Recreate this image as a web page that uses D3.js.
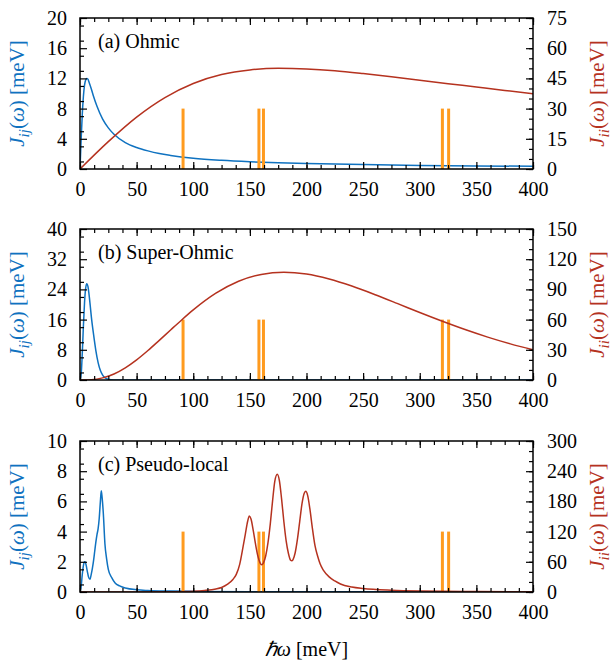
<!DOCTYPE html>
<html>
<head>
<meta charset="utf-8">
<script src="https://cdn.jsdelivr.net/npm/d3@7"></script>
<style>
  html, body, svg, svg text, svg tspan { font-family: "Liberation Serif", "Times New Roman", Times, serif !important; }
</style>
</head>
<body style="margin:0">
<script>
const width = 616;
const height = 660;
const fontFam = "Liberation Serif";

// x ticks shared by all panels
const xTicks = [0, 50, 100, 150, 200, 250, 300, 350, 400];

// vibrational mode energies (orange bars) [meV]
const modeEnergies = [91, 158, 162, 320, 325.5];

// (a) Ohmic
const omegaOhmicIJ = [0, 1, 2, 3, 4, 5, 6, 7, 8, 10, 12, 15, 20, 25, 30, 40, 50, 60, 70, 80, 100, 125, 150, 175, 200, 250, 300, 350, 400];
const ohmicIJ = [0, 3.9, 7.2, 9.6, 11.1, 11.8, 12.0, 11.9, 11.5, 10.6, 9.6, 8.3, 6.6, 5.45, 4.6, 3.5, 2.85, 2.4, 2.05, 1.8, 1.43, 1.15, 0.96, 0.82, 0.72, 0.58, 0.48, 0.41, 0.36];
const omegaOhmicII = [0, 25, 50, 75, 100, 125, 150, 175, 200, 225, 250, 275, 300, 325, 350, 375, 400];
const ohmicII = [0, 13.6, 25.8, 35.5, 42.5, 46.9, 49.2, 50.0, 49.7, 48.8, 47.4, 45.8, 44.1, 42.4, 40.7, 39.0, 37.4];

// (b) Super-Ohmic
const omegaSuperIJ = [0, 1, 2, 3, 4, 5, 6, 7, 8, 9, 10, 12, 14, 16, 18, 20, 22, 25, 30, 35, 400];
const superIJ = [0, 1.4, 7.0, 14.3, 20.5, 24.3, 25.5, 24.8, 22.6, 19.8, 16.8, 12.0, 7.8, 4.6, 2.5, 1.3, 0.6, 0.2, 0.03, 0, 0];
const omegaSuperII = [0, 10, 20, 30, 40, 50, 60, 70, 80, 90, 100, 120, 140, 160, 180, 200, 220, 240, 260, 280, 300, 320, 340, 360, 380, 400];
const superII = [0, 0.3, 2.1, 6.0, 12.1, 20.0, 29.3, 39.4, 49.7, 59.9, 69.6, 86.2, 98.1, 104.9, 107, 105.2, 100.3, 93.3, 85.0, 76.1, 67.0, 58.3, 50.1, 42.6, 35.9, 30.0];

// (c) Pseudo-local
const omegaLocalIJ = [0, 1, 2, 3, 4, 4.5, 5.5, 6.5, 7.5, 8.8, 10, 11, 12, 13, 14, 15, 16, 17, 18, 18.8, 19.6, 20.6, 22, 23.5, 25, 28, 31, 35, 40, 50, 60, 80, 100, 150, 250, 400];
const localIJ = [0, 0.35, 1.15, 1.75, 2.0, 2.0, 1.75, 1.35, 1.0, 0.84, 1.2, 1.6, 2.1, 2.7, 3.3, 3.8, 4.2, 4.9, 6.0, 6.7, 6.2, 5.2, 3.2, 2.2, 1.5, 0.95, 0.6, 0.4, 0.27, 0.15, 0.1, 0.06, 0.04, 0.02, 0.01, 0];
const omegaLocalII = [0, 50, 80, 100, 110, 120, 125, 130, 135, 138, 141, 144, 146, 148, 149.5, 151, 153, 155, 157, 159, 160.4, 162, 164, 166, 168, 170, 172, 174.2, 176, 178, 180, 182, 184, 186, 187, 188, 190, 192, 194, 196, 198, 199.3, 201, 203, 205, 207.5, 210, 212, 215, 220, 225, 230, 240, 250, 275, 300, 350, 400];
const localII = [0, 0, 0.5, 1.5, 3, 6, 9, 15, 25, 35, 55, 90, 115, 140, 151, 145, 122, 95, 72, 58, 54, 58, 72, 98, 135, 180, 220, 234, 222, 185, 140, 102, 77, 63, 62, 64, 78, 105, 140, 175, 196, 200, 192, 165, 130, 92, 70, 56, 43, 30, 22, 16, 10, 7, 3.5, 2, 1, 0.5];

// left / right axis ticks per panel
const leftTicksA = [0, 4, 8, 12, 16, 20];
const rightTicksA = [0, 15, 30, 45, 60, 75];
const leftTicksB = [0, 8, 16, 24, 32, 40];
const rightTicksB = [0, 30, 60, 90, 120, 150];
const leftTicksC = [0, 2, 4, 6, 8, 10];
const rightTicksC = [0, 60, 120, 180, 240, 300];

const panelLabels = ["(a) Ohmic", "(b) Super-Ohmic", "(c) Pseudo-local"];
const barHeights = [8, 16, 4]; // in left-axis units

const colBlue = "#0f72c0";
const colRed = "#b5321f";
const colOrange = "#ff9b1f";

const left = 80, right = 533;
const panelTops = [18, 229, 441];
const panelH = 151;

const x = d3.scaleLinear().domain([0, 400]).range([left, right]);

const panels = [
  { ij: [omegaOhmicIJ, ohmicIJ], ii: [omegaOhmicII, ohmicII], lt: leftTicksA, rt: rightTicksA },
  { ij: [omegaSuperIJ, superIJ], ii: [omegaSuperII, superII], lt: leftTicksB, rt: rightTicksB },
  { ij: [omegaLocalIJ, localIJ], ii: [omegaLocalII, localII], lt: leftTicksC, rt: rightTicksC }
];

const svg = d3.select("body").append("svg")
  .attr("width", width)
  .attr("height", height)
  .attr("font-family", fontFam);

const zip = (xs, ys) => xs.map((v, k) => [v, ys[k]]);

const minorOf = (ticks) => {
  const step = (ticks[1] - ticks[0]) / 4;
  return d3.range(ticks[0], ticks[ticks.length - 1] + step / 2, step);
};

const mathLabel = (g, sub) => {
  g.append("tspan").attr("font-style", "italic").text("J");
  g.append("tspan").attr("font-style", "italic").attr("font-size", 15).attr("dy", 5).text(sub);
  g.append("tspan").attr("dy", -5).text("(");
  g.append("tspan").attr("font-style", "italic").text("ω");
  g.append("tspan").text(") [meV]");
};

panels.forEach((p, idx) => {
  const top = panelTops[idx];
  const bottom = top + panelH;
  const yL = d3.scaleLinear().domain([p.lt[0], p.lt[p.lt.length - 1]]).range([bottom, top]);
  const yR = d3.scaleLinear().domain([p.rt[0], p.rt[p.rt.length - 1]]).range([bottom, top]);

  const g = svg.append("g");

  const clipId = "clip" + idx;
  g.append("clipPath").attr("id", clipId)
    .append("rect").attr("x", left).attr("y", top).attr("width", right - left).attr("height", panelH);

  const plot = g.append("g").attr("clip-path", `url(#${clipId})`);

  const lineL = d3.line().x(d => x(d[0])).y(d => yL(d[1])).curve(d3.curveMonotoneX);
  const lineR = d3.line().x(d => x(d[0])).y(d => yR(d[1])).curve(d3.curveMonotoneX);

  plot.append("path")
    .datum(zip(p.ij[0], p.ij[1]))
    .attr("d", lineL)
    .attr("fill", "none")
    .attr("stroke", colBlue)
    .attr("stroke-width", 1.5);

  plot.selectAll("rect.mode")
    .data(modeEnergies)
    .enter().append("rect")
    .attr("class", "mode")
    .attr("x", d => x(d) - 1.5)
    .attr("y", yL(barHeights[idx]))
    .attr("width", 3)
    .attr("height", yL(0) - yL(barHeights[idx]))
    .attr("fill", colOrange);

  plot.append("path")
    .datum(zip(p.ii[0], p.ii[1]))
    .attr("d", lineR)
    .attr("fill", "none")
    .attr("stroke", colRed)
    .attr("stroke-width", 1.5);

  // axes: major ticks inward with labels, minor ticks inward
  const styleAxis = sel => {
    sel.attr("font-family", fontFam).attr("font-size", 20);
    sel.select(".domain").remove();
    sel.selectAll("line").attr("stroke", "#000").attr("stroke-width", 1.2);
    sel.selectAll("text").attr("fill", "#000");
  };

  g.append("g").attr("transform", `translate(0,${bottom})`)
    .call(d3.axisBottom(x).tickValues(xTicks).tickSize(-7).tickPadding(10).tickFormat(d3.format("d")))
    .call(styleAxis)
    .selectAll("text").attr("dy", "0.85em");
  g.append("g").attr("transform", `translate(0,${bottom})`)
    .call(d3.axisBottom(x).tickValues(minorOf(xTicks)).tickSize(-4).tickFormat(""))
    .call(styleAxis);
  g.append("g").attr("transform", `translate(0,${top})`)
    .call(d3.axisTop(x).tickValues(xTicks).tickSize(-7).tickFormat(""))
    .call(styleAxis);
  g.append("g").attr("transform", `translate(0,${top})`)
    .call(d3.axisTop(x).tickValues(minorOf(xTicks)).tickSize(-4).tickFormat(""))
    .call(styleAxis);

  g.append("g").attr("transform", `translate(${left},0)`)
    .call(d3.axisLeft(yL).tickValues(p.lt).tickSize(-7).tickPadding(13))
    .call(styleAxis);
  g.append("g").attr("transform", `translate(${left},0)`)
    .call(d3.axisLeft(yL).tickValues(minorOf(p.lt).filter((v, k) => k % 2 === 1)).tickSize(-4).tickFormat(""))
    .call(styleAxis);

  g.append("g").attr("transform", `translate(${right},0)`)
    .call(d3.axisRight(yR).tickValues(p.rt).tickSize(-7).tickPadding(14))
    .call(styleAxis);
  const rStep = (p.rt[1] - p.rt[0]) / 3;
  g.append("g").attr("transform", `translate(${right},0)`)
    .call(d3.axisRight(yR).tickValues(d3.range(p.rt[0], p.rt[p.rt.length - 1] + rStep / 2, rStep)).tickSize(-4).tickFormat(""))
    .call(styleAxis);

  g.append("rect")
    .attr("x", left).attr("y", top)
    .attr("width", right - left).attr("height", panelH)
    .attr("fill", "none").attr("stroke", "#000").attr("stroke-width", 1.5);

  g.append("text")
    .attr("x", left + 18).attr("y", top + 30)
    .attr("font-family", fontFam).attr("font-size", 20)
    .text(panelLabels[idx]);

  const midY = (top + bottom) / 2;
  const lt = g.append("text")
    .attr("transform", `translate(24,${midY}) rotate(-90)`)
    .attr("text-anchor", "middle")
    .attr("font-family", fontFam).attr("font-size", 21)
    .attr("fill", colBlue);
  mathLabel(lt, "ij");

  const rtx = g.append("text")
    .attr("transform", `translate(604,${midY}) rotate(-90)`)
    .attr("text-anchor", "middle")
    .attr("font-family", fontFam).attr("font-size", 21)
    .attr("fill", colRed);
  mathLabel(rtx, "ii");
});

const xl = svg.append("text")
  .attr("x", (left + right) / 2)
  .attr("y", 656)
  .attr("text-anchor", "middle")
  .attr("font-family", fontFam).attr("font-size", 20);
xl.append("tspan").attr("font-style", "italic").text("ℏω");
xl.append("tspan").text(" [meV]");
</script>
</body>
</html>
